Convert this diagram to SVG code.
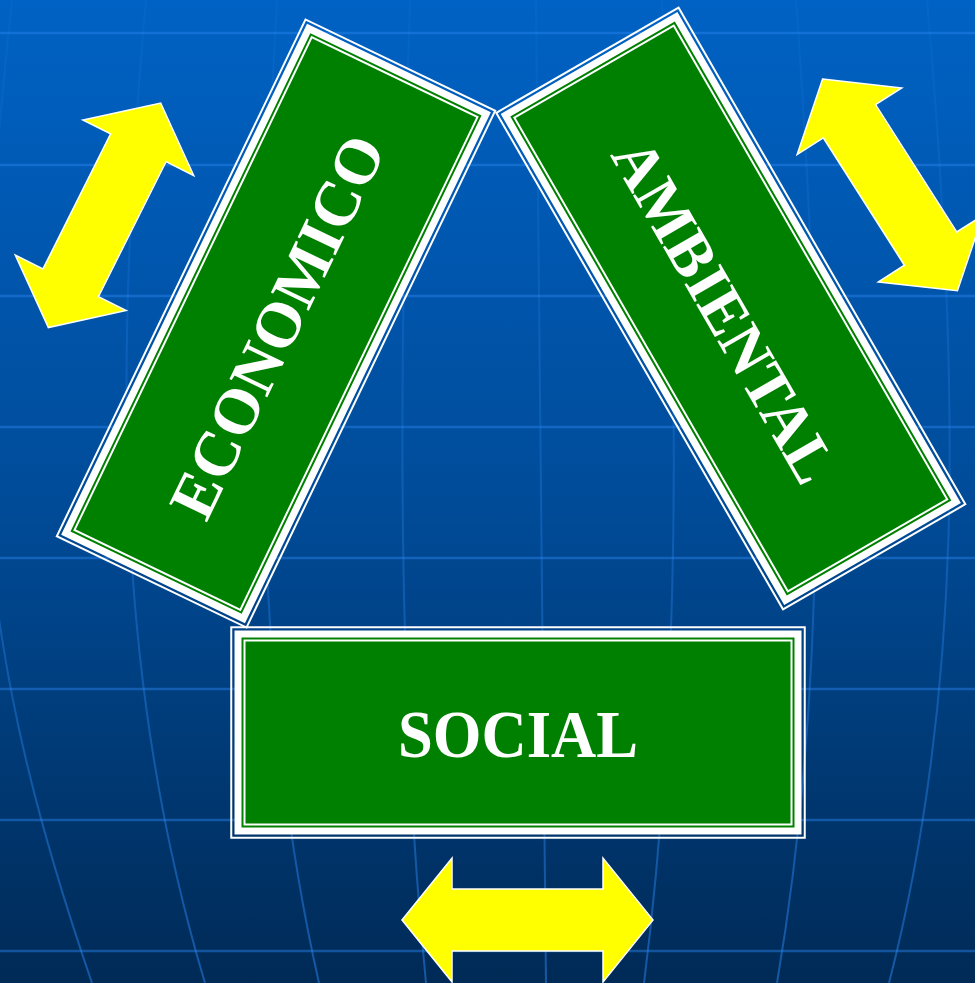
<svg xmlns="http://www.w3.org/2000/svg" xmlns:xlink="http://www.w3.org/1999/xlink" width="975" height="983" viewBox="0 0 975 983">
  <defs>
    <linearGradient id="bg" x1="0" y1="0" x2="0" y2="1">
      <stop offset="0" stop-color="#0062c4"/>
      <stop offset="0.5" stop-color="#004c9a"/>
      <stop offset="1" stop-color="#002a56"/>
    </linearGradient>
    <linearGradient id="vgrad" gradientUnits="userSpaceOnUse" x1="0" y1="0" x2="0" y2="983">
      <stop offset="0" stop-color="#2a86f0" stop-opacity="0.1"/>
      <stop offset="0.6" stop-color="#2a86f0" stop-opacity="0.35"/>
      <stop offset="1" stop-color="#2a86f0" stop-opacity="0.5"/>
    </linearGradient>
    <g id="frame">
      <rect x="-286.75" y="-105.25" width="573.5" height="210.5" fill="none" stroke="#ffffff" stroke-width="2"/>
      <rect x="-280" y="-98.5" width="560" height="197" fill="#008000" stroke="#ffffff" stroke-width="7"/>
      <rect x="-273.5" y="-92" width="547" height="184" fill="none" stroke="#ffffff" stroke-width="2"/>
    </g>
    <polygon id="arrow" points="-125.5,0 -75.5,-62 -75.5,-31 75.5,-31 75.5,-62 125.5,0 75.5,62 75.5,31 -75.5,31 -75.5,62"/>
  </defs>
  <style>
    .hline { stroke: #2a86f0; stroke-opacity: 0.45; stroke-width: 2.5; fill: none; }
    .vline { stroke: url(#vgrad); stroke-width: 2; fill: none; }
    .label { font-family: "Liberation Serif", "Times New Roman", serif; font-weight: bold; font-size: 64px; fill: #ffffff; text-anchor: middle; }
    .yarrow { fill: #ffff00; stroke: #ffffff; stroke-width: 1.5; stroke-linejoin: miter; }
  </style>

  <g id="background">
    <rect x="0" y="0" width="975" height="983" fill="url(#bg)"/>
    <g id="grid">
      <line class="hline" x1="0" y1="33" x2="975" y2="33"/>
      <line class="hline" x1="0" y1="165" x2="975" y2="165"/>
      <line class="hline" x1="0" y1="296" x2="975" y2="296"/>
      <line class="hline" x1="0" y1="427" x2="975" y2="427"/>
      <line class="hline" x1="0" y1="558" x2="975" y2="558"/>
      <line class="hline" x1="0" y1="689" x2="975" y2="689"/>
      <line class="hline" x1="0" y1="820" x2="975" y2="820"/>
      <line class="hline" x1="0" y1="951" x2="975" y2="951"/>
      <path class="vline" d="M12,0 C-30,400 -40,600 92,983"/>
      <path class="vline" d="M146,0 C110,400 120,700 205,983"/>
      <path class="vline" d="M277,0 C255,400 255,700 319,983"/>
      <path class="vline" d="M410,0 C398,400 398,700 426,983"/>
      <path class="vline" d="M536,0 C539,400 542,700 546,983"/>
      <path class="vline" d="M662,0 C680,400 680,700 644,983"/>
      <path class="vline" d="M796,0 C825,400 825,700 777,983"/>
      <path class="vline" d="M927,0 C962,400 962,700 889,983"/>
    </g>
  </g>

  <g id="connectors">
    <use xlink:href="#arrow" class="yarrow" transform="translate(104.5,215.3) rotate(-63.4)"/>
    <use xlink:href="#arrow" class="yarrow" transform="translate(890,184.9) rotate(57.5)"/>
    <use xlink:href="#arrow" class="yarrow" transform="translate(527.5,920)"/>
  </g>

  <g id="social" transform="translate(518,732.5)">
    <use xlink:href="#frame"/>
    <text class="label" x="0" y="24.5" style="font-size:67px" textLength="240" lengthAdjust="spacingAndGlyphs">SOCIAL</text>
  </g>

  <g id="economico" transform="translate(276,323.5) rotate(-64.3)">
    <use xlink:href="#frame"/>
    <text class="label" x="-2" y="24">ECONOMICO</text>
  </g>

  <g id="ambiental" transform="translate(730.8,308.5) rotate(60)">
    <use xlink:href="#frame"/>
    <text class="label" x="-1" y="28" style="font-size:63px" textLength="385" lengthAdjust="spacingAndGlyphs">AMBIENTAL</text>
  </g>
</svg>
